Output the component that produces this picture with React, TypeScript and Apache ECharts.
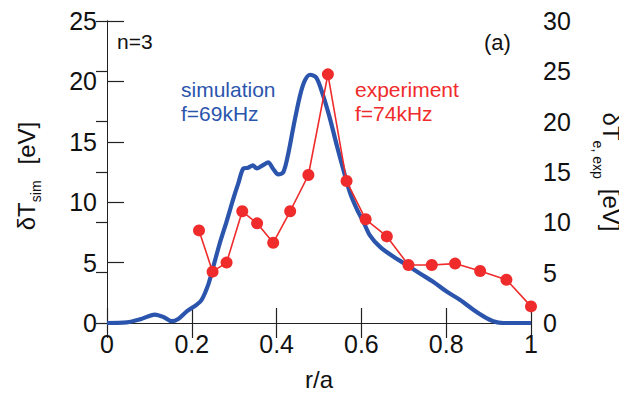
import React, { useEffect, useRef } from "react";
import * as echarts from "echarts";

const simX = [0, 0.047, 0.078, 0.113, 0.133, 0.152, 0.168, 0.188, 0.211, 0.223, 0.239, 0.251, 0.266, 0.282, 0.298, 0.31, 0.322, 0.333, 0.344, 0.353, 0.365, 0.38, 0.392, 0.404, 0.416, 0.428, 0.44, 0.455, 0.467, 0.479, 0.494, 0.51, 0.526, 0.542, 0.557, 0.573, 0.589, 0.605, 0.62, 0.644, 0.675, 0.707, 0.738, 0.77, 0.801, 0.833, 0.864, 0.888, 0.911, 0.935, 1.0];
const simY = [0, 0.05, 0.3, 0.7, 0.5, 0.15, 0.33, 0.96, 1.5, 1.9, 3.2, 4.7, 6.6, 8.4, 10.3, 11.6, 12.8, 12.85, 13.05, 12.8, 13.0, 13.3, 12.75, 12.3, 12.5, 14.1, 16.3, 18.8, 20.1, 20.55, 20.3, 18.8, 16.9, 14.7, 12.75, 10.8, 9.45, 8.36, 7.26, 6.3, 5.5, 4.8, 4.1, 3.4, 2.6, 1.9, 1.1, 0.55, 0.15, 0, 0];

const expX = [0.217, 0.249, 0.282, 0.319, 0.354, 0.392, 0.432, 0.475, 0.521, 0.565, 0.61, 0.66, 0.711, 0.766, 0.821, 0.88, 0.942, 1.0];
const expY = [9.2, 5.1, 6.0, 11.1, 9.9, 7.97, 11.1, 14.7, 24.7, 14.1, 10.3, 8.6, 5.76, 5.76, 5.9, 5.16, 4.3, 1.65];

const BLUE = "#2b55ad";
const RED = "#ef2b2b";
const FONT = "Liberation Sans";
const INK = "#111";

export default function App() {
  const ref = useRef<HTMLDivElement>(null);
  useEffect(() => {
    const chart = echarts.init(ref.current!, null, { renderer: "svg" });
    const axisLine = { show: true, lineStyle: { color: "#222", width: 1 } };
    chart.setOption({
      animation: false,
      backgroundColor: "#ffffff",
      textStyle: { fontFamily: FONT },
      grid: { left: 107, right: 96, top: 21, bottom: 71, show: false },
      xAxis: [
        {
          type: "value",
          min: 0,
          max: 1,
          interval: 0.2,
          position: "bottom",
          name: "r/a",
          nameLocation: "middle",
          nameGap: 44,
          nameTextStyle: { fontSize: 24, color: INK, fontFamily: FONT },
          axisLine,
          axisTick: { show: true, inside: true, length: 15, lineStyle: { color: "#222", width: 1.2 } },
          axisLabel: { fontSize: 25, color: INK, margin: 8, fontFamily: FONT, formatter: (v: number) => String(Math.round(v * 10) / 10) },
          splitLine: { show: false },
        },
        {
          type: "value",
          min: 0,
          max: 1,
          interval: 0.2,
          position: "top",
          axisLine,
          axisTick: { show: true, inside: true, length: 15, lineStyle: { color: "#222", width: 1.2 } },
          axisLabel: { show: false },
          splitLine: { show: false },
        },
      ],
      yAxis: [
        {
          type: "value",
          min: 0,
          max: 25,
          interval: 5,
          position: "left",
          axisLine,
          axisTick: { show: true, inside: true, length: 17, lineStyle: { color: "#222", width: 1.2 } },
          axisLabel: { fontSize: 25, color: INK, margin: 10, fontFamily: FONT, padding: [0, 0, 6, 0] },
          splitLine: { show: false },
        },
        {
          type: "value",
          min: 0,
          max: 30,
          interval: 5,
          position: "right",
          axisLine,
          axisTick: { show: true, inside: true, length: 11, lineStyle: { color: "#222", width: 1.2 } },
          axisLabel: { fontSize: 25, color: INK, margin: 12, fontFamily: FONT },
          splitLine: { show: false },
        },
      ],
      series: [
        {
          type: "line",
          xAxisIndex: 0,
          yAxisIndex: 0,
          data: simX.map((x, i) => [x, simY[i]]),
          showSymbol: false,
          smooth: 0.3,
          lineStyle: { color: BLUE, width: 4.2 },
          z: 2,
        },
        {
          type: "line",
          xAxisIndex: 0,
          yAxisIndex: 1,
          data: expX.map((x, i) => [x, expY[i]]),
          symbol: "circle",
          symbolSize: 12,
          itemStyle: { color: RED },
          lineStyle: { color: RED, width: 1.6 },
          z: 3,
        },
      ],
      graphic: [
        { type: "text", left: 117, top: 31, style: { text: "n=3", fontSize: 21, fill: INK, fontFamily: FONT } },
        { type: "text", left: 484, top: 31, style: { text: "(a)", fontSize: 22, fill: INK, fontFamily: FONT } },
        { type: "text", left: 181, top: 77, style: { text: "simulation\nf=69kHz", fontSize: 21, lineHeight: 24, fill: BLUE, fontFamily: FONT } },
        { type: "text", left: 355, top: 77, style: { text: "experiment\nf=74kHz", fontSize: 21, lineHeight: 24, fill: RED, fontFamily: FONT } },
        {
          type: "text",
          x: 26,
          y: 176,
          rotation: Math.PI / 2,
          style: {
            text: "{a|δT}{s|sim}{b|[eV]}",
            align: "center",
            verticalAlign: "middle",
            fill: INK,
            fontFamily: FONT,
            rich: {
              a: { fontSize: 24, fontFamily: FONT, fill: INK, lineHeight: 36, verticalAlign: "middle" },
              s: { fontSize: 14, fontFamily: FONT, fill: INK, lineHeight: 36, verticalAlign: "bottom", padding: [0, 0, 1, 0] },
              b: { fontSize: 24, fontFamily: FONT, fill: INK, lineHeight: 36, verticalAlign: "middle", padding: [0, 0, 0, 16] },
            },
          },
        },
        {
          type: "text",
          x: 611,
          y: 172,
          rotation: -Math.PI / 2,
          style: {
            text: "{a|δT}{s|e, exp}{b|[eV]}",
            align: "center",
            verticalAlign: "middle",
            fill: INK,
            fontFamily: FONT,
            rich: {
              a: { fontSize: 24, fontFamily: FONT, fill: INK, lineHeight: 40, verticalAlign: "middle" },
              s: { fontSize: 14, fontFamily: FONT, fill: INK, lineHeight: 40, verticalAlign: "bottom", padding: [0, 0, 0, 0] },
              b: { fontSize: 24, fontFamily: FONT, fill: INK, lineHeight: 40, verticalAlign: "middle", padding: [0, 0, 0, 10] },
            },
          },
        },
      ],
    });
    return () => chart.dispose();
  }, []);
  return <div ref={ref} style={{ width: 627, height: 396, margin: -8 }} />;
}
